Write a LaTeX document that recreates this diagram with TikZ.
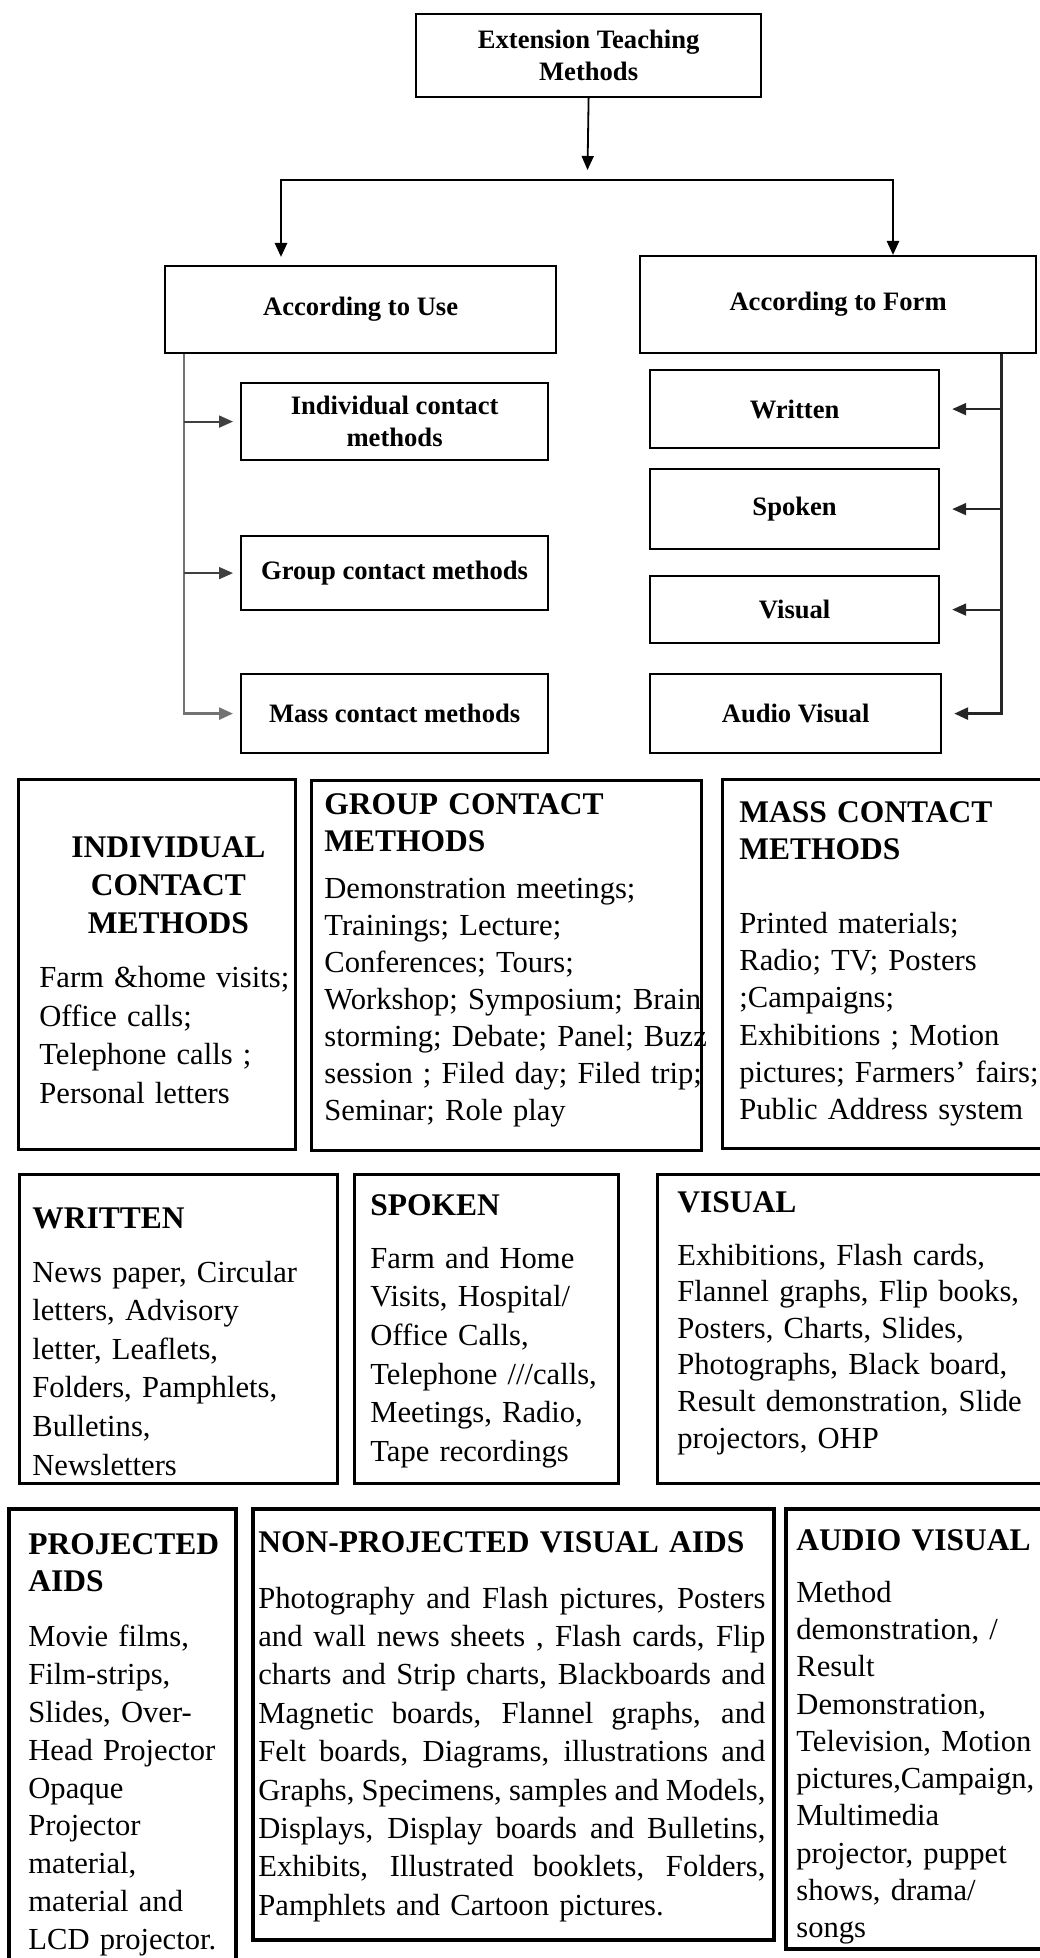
\documentclass[tikz,border=0pt]{standalone}
\usepackage{fontspec}
\setmainfont{Liberation Serif}
\usetikzlibrary{arrows.meta,positioning}
% bold heading line of a list box
\newcommand{\bhead}[1]{{\fontsize{15.75}{19}\selectfont\bfseries #1}}
% centred heading line of the individual box
\newcommand{\chead}[1]{\makebox[129pt]{\bhead{#1}}}
% one justified line of the non-projected list
\newcommand{\jline}[1]{\makebox[253.5pt][s]{\spaceskip=.25em plus .6em minus .1em\relax #1}}

\begin{document}
\begin{tikzpicture}[
    x=0.5pt,y=-0.5pt,
    hbox/.style={draw,line width=1.1pt,inner sep=0pt,anchor=north west,align=center,font=\fontsize{13.3}{15.75}\selectfont\bfseries},
    panel/.style={draw,line width=1.5pt,inner sep=0pt,anchor=north west},
    heavy/.style={panel,line width=1.8pt},
    txt/.style={inner sep=0pt,anchor=base west,align=left,text width=280pt,font=\fontsize{15.3}{#1}\selectfont},
    arrow/.style={-{Triangle[length=7pt,width=6pt]},line width=0.9pt},
    fork/.style={{Triangle[length=7pt,width=6pt]}-{Triangle[length=7pt,width=6pt]},line width=1.3pt},
    usewire/.style={-{Triangle[length=7pt,width=6pt]},line width=1.3pt,black!55},
    usearrow/.style={-{Triangle[length=7pt,width=6pt]},line width=0.9pt,black!75,shorten >=3.5pt},
    formwire/.style={-{Triangle[length=7pt,width=6pt]},line width=1.4pt,black!85,shorten >=6pt},
    formarrow/.style={-{Triangle[length=7pt,width=6pt]},line width=1pt,black!85,shorten >=6pt}
  ]
    \useasboundingbox (0,0) rectangle (1039,1958);

    % classification tree
    \node[hbox,minimum width=172.5pt,minimum height=41.5pt] (etm) at (415,13) {Extension Teaching\\Methods};
    \node[hbox,minimum width=195.5pt,minimum height=43.5pt] (use) at (164,265) {According to Use};
    \node[hbox,minimum width=198pt,minimum height=48.5pt] (form) at (639,255) {According to Form};

    \node[hbox,minimum width=153.5pt,minimum height=38.5pt] (ind) at (240,382) {Individual contact\\methods};
    \node[hbox,minimum width=153.5pt,minimum height=37pt] (grp) at (240,535) {Group contact methods};
    \node[hbox,minimum width=153.5pt,minimum height=39.5pt] (mass) at (240,673) {Mass contact methods};

    \node[hbox,minimum width=144.5pt,minimum height=39pt] (wri) at (649,369) {Written};
    \node[hbox,minimum width=144.5pt,minimum height=40pt] (spo) at (649,468) {Spoken};
    \node[hbox,minimum width=144.5pt,minimum height=33.5pt] (vis) at (649,575) {Visual};
    \node[hbox,minimum width=145.5pt,minimum height=39.5pt] (aud) at (649,673) {Audio Visual};

    \coordinate (split) at (587.5,170);
    \coordinate (brL) at (281,180);
    \coordinate (brR) at (893,180);
    \coordinate (stemL) at ([xshift=10pt]use.south west);
    \coordinate (stemR) at ([xshift=-18pt]form.south east);

    \draw[arrow] (etm.south) -- (split);
    \draw[fork,shorten <=4pt] (brL |- use.north) -- (brL) -- (brR) -- (brR |- form.north);

    \draw[usewire,shorten >=3.5pt] (stemL) |- (mass.west);
    \foreach \n in {ind,grp}
      \draw[usearrow] (stemL |- \n.west) -- (\n.west);

    \draw[formwire] (stemR) |- (aud.east);
    \foreach \n in {wri,spo,vis}
      \draw[formarrow] (stemR |- \n.east) -- (\n.east);

    % contact methods row
    \node[panel,minimum width=138.5pt,minimum height=185pt] (indc) at (17,778) {};
    \node[panel,minimum width=195pt,minimum height=185pt] (grpc) at (310,779) {};
    \node[panel,minimum width=162pt,minimum height=184.5pt] (masc) at (721,778) {};

    \node[txt=19.2pt] (indcT) at ([shift={(22,79)}]indc.north west)
      {\chead{INDIVIDUAL}\\ \chead{CONTACT}\\ \chead{METHODS}\\[7.8pt]
       Farm \&home visits;\\ Office calls;\\ Telephone calls ;\\ Personal letters};
    \node[txt=18.5pt] (grpcT) at ([shift={(14,35)}]grpc.north west)
      {\bhead{GROUP CONTACT}\\ \bhead{METHODS}\\[5pt]
       Demonstration meetings;\\ Trainings; Lecture;\\ Conferences; Tours;\\
       Workshop; Symposium; Brain\\ storming; Debate; Panel; Buzz\\
       session ; Filed day; Filed trip;\\ Seminar; Role play};
    \node[txt=18.6pt] (mascT) at ([shift={(18,44)}]masc.north west)
      {\bhead{MASS CONTACT}\\ \bhead{METHODS}\\[18.5pt]
       Printed materials;\\ Radio; TV; Posters\\ ;Campaigns;\\
       Exhibitions ; Motion\\ pictures; Farmers' fairs;\\ Public Address system};

    % forms row
    \node[panel,minimum width=159pt,minimum height=154.5pt] (wrt) at (18,1173) {};
    \node[panel,minimum width=132pt,minimum height=154.5pt] (spk) at (353,1173) {};
    \node[panel,minimum width=194.5pt,minimum height=154.5pt] (vsl) at (656,1173) {};

    \node[txt=19.3pt] (wrtT) at ([shift={(14,55)}]wrt.north west)
      {\bhead{WRITTEN}\\[7.7pt]
       News paper, Circular\\ letters, Advisory\\ letter, Leaflets,\\
       Folders, Pamphlets,\\ Bulletins,\\ Newsletters};
    \node[txt=19.35pt] (spkT) at ([shift={(17,42)}]spk.north west)
      {\bhead{SPOKEN}\\[7.2pt]
       Farm and Home\\ Visits, Hospital/\\ Office Calls,\\
       Telephone ///calls,\\ Meetings, Radio,\\ Tape recordings};
    \node[txt=18.3pt] (vslT) at ([shift={(21,39)}]vsl.north west)
      {\bhead{VISUAL}\\[8.2pt]
       Exhibitions, Flash cards,\\ Flannel graphs, Flip books,\\ Posters, Charts, Slides,\\
       Photographs, Black board,\\ Result demonstration, Slide\\ projectors, OHP};

    % aids row
    \node[heavy,minimum width=113.5pt,minimum height=235pt] (prj) at (7,1507) {};
    \node[heavy,minimum width=260.5pt,minimum height=215.5pt] (npj) at (251,1507) {};
    \node[heavy,minimum width=130.5pt,minimum height=220pt] (aav) at (784,1507) {};

    \node[txt=18.9pt] (prjT) at ([shift={(21,47)}]prj.north west)
      {\bhead{PROJECTED}\\ \bhead{AIDS}\\[8.6pt]
       Movie films,\\ Film-strips,\\ Slides, Over-\\ Head Projector\\ Opaque\\
       Projector\\ material,\\ material and\\ LCD projector.};
    \node[txt=19.2pt] (npjT) at ([shift={(7,45)}]npj.north west)
      {\bhead{NON-PROJECTED VISUAL AIDS}\\[8.8pt]
       \jline{Photography and Flash pictures, Posters}\\
       \jline{and wall news sheets , Flash cards, Flip}\\
       \jline{charts and Strip charts, Blackboards and}\\
       \jline{Magnetic boards, Flannel graphs, and}\\
       \jline{Felt boards, Diagrams, illustrations and}\\
       \jline{Graphs, Specimens, samples and Models,}\\
       \jline{Displays, Display boards and Bulletins,}\\
       \jline{Exhibits, Illustrated booklets, Folders,}\\
       Pamphlets and Cartoon pictures.};
    \node[txt=18.65pt] (aavT) at ([shift={(12,43)}]aav.north west)
      {\bhead{AUDIO VISUAL}\\[7.4pt]
       Method\\ demonstration, /\\ Result\\ Demonstration,\\ Television, Motion\\
       pictures,Campaign,\\ Multimedia\\ projector, puppet\\ shows, drama/\\ songs};
\end{tikzpicture}
\end{document}
